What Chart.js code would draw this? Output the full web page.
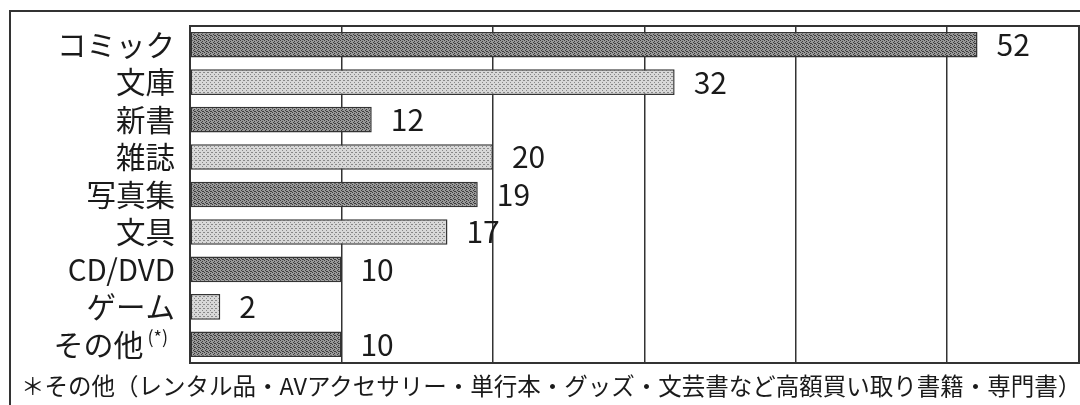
<!DOCTYPE html>
<html lang="ja">
<head>
<meta charset="utf-8">
<title>買取品目</title>
<script src="https://cdn.jsdelivr.net/npm/chart.js@4/dist/chart.umd.min.js"></script>
<style>
    body { margin: 0; background: #fff; overflow: hidden; }
    #wrap { position: relative; width: 1080px; height: 405px; }
    #frame {
        position: absolute; left: 9px; top: 10px; width: 1200px; height: 500px;
        border-left: 2px solid #333; border-top: 2px solid #333;
    }
    #note {
        position: absolute; left: 21px; top: 368px;
        font: 23.5px "Noto Sans CJK JP", sans-serif; color: #1a1a1a; white-space: nowrap;
    }
    canvas { position: absolute; left: 0; top: 0; }
</style>
</head>
<body>
<div id="wrap">
    <div id="frame"></div>
    <canvas id="bookChart" width="1080" height="405"></canvas>
    <div id="note">＊その他（レンタル品・AVアクセサリー・単行本・グッズ・文芸書など高額買い取り書籍・専門書）</div>
</div>
<script>
// data
const categories = ['コミック', '文庫', '新書', '雑誌', '写真集', '文具', 'CD/DVD', 'ゲーム', 'その他'];
const values = [52, 32, 12, 20, 19, 17, 10, 2, 10];
const noteMark = '(*)';
const noteIndex = 8;
const X_MAX = 58.7;
const X_STEP = 10;

const FONT = '"Noto Sans CJK JP", sans-serif';

// dotted fill like the printed chart
function makePattern(base, dot, cells) {
    const p = document.createElement('canvas');
    p.width = 4;
    p.height = 4;
    const g = p.getContext('2d');
    g.fillStyle = base;
    g.fillRect(0, 0, 4, 4);
    g.fillStyle = dot;
    cells.forEach(([x, y]) => g.fillRect(x, y, 1, 1));
    return g.createPattern(p, 'repeat');
}

const darkFill = makePattern('#999', '#3c3c3c', [[0, 0], [2, 1], [1, 2], [3, 3], [2, 3]]);
const lightFill = makePattern('#d8d8d8', '#888', [[0, 0], [2, 2], [3, 0]]);

// labels, values and box
const labelPlugin = {
    id: 'labelPlugin',
    afterDatasetsDraw(chart) {
        const ctx = chart.ctx;
        const yScale = chart.scales.y;
        const area = chart.chartArea;
        const bars = chart.getDatasetMeta(0).data;

        ctx.save();
        ctx.strokeStyle = '#333';
        ctx.lineWidth = 2;
        ctx.strokeRect(area.left, area.top, area.right - area.left, area.bottom - area.top);

        ctx.fillStyle = '#1a1a1a';
        ctx.textBaseline = 'middle';
        categories.forEach((name, i) => {
            const y = yScale.getPixelForValue(i);
            ctx.textAlign = 'right';
            if (i === noteIndex) {
                ctx.font = '18px ' + FONT;
                const w = ctx.measureText(noteMark).width;
                ctx.fillText(noteMark, 168, y - 7);
                ctx.font = '30px ' + FONT;
                ctx.fillText(name, 168 - w - 4, y);
            } else {
                ctx.font = '29.5px ' + FONT;
                ctx.fillText(name, 175, y);
            }

            ctx.font = '30px ' + FONT;
            ctx.textAlign = 'left';
            ctx.fillText(values[i], bars[i].x + 19, bars[i].y);
        });
        ctx.restore();
    }
};

let ctx = document.getElementById('bookChart').getContext('2d');
let bookChart = new Chart(ctx, {
    type: 'bar',
    data: {
        labels: categories,
        datasets: [{
            data: values,
            backgroundColor: values.map((v, i) => i % 2 === 0 ? darkFill : lightFill),
            borderColor: '#333',
            borderWidth: 1.5,
            borderSkipped: false,
            barPercentage: 0.76,
            categoryPercentage: 0.9
        }]
    },
    options: {
        indexAxis: 'y',
        responsive: false,
        animation: false,
        layout: { padding: { left: 182, top: 26, right: 1, bottom: 42 } },
        plugins: {
            legend: { display: false },
            tooltip: { enabled: false }
        },
        scales: {
            x: {
                min: 0,
                max: X_MAX,
                ticks: { display: false, stepSize: X_STEP },
                grid: { color: '#333', lineWidth: 1.5, drawTicks: false },
                border: { display: false }
            },
            y: {
                ticks: { display: false },
                grid: { display: false },
                border: { display: false }
            }
        }
    },
    plugins: [labelPlugin]
});
</script>
</body>
</html>
